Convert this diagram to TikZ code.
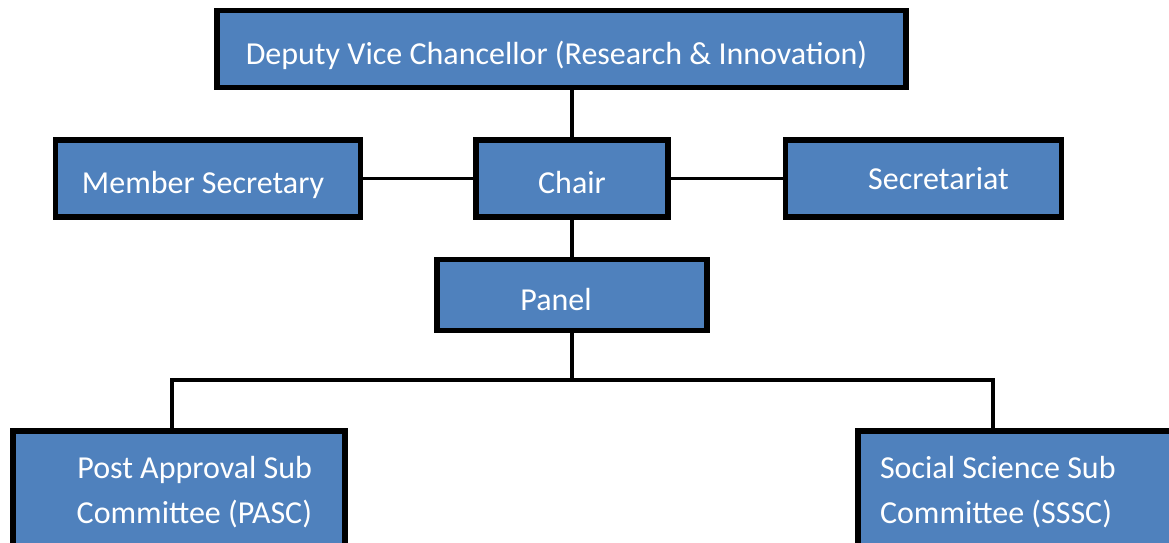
\documentclass[tikz,border=0pt]{standalone}
\usepackage{fontspec}
\setmainfont{Carlito}
\usetikzlibrary{
    positioning % For placing nodes relative to each other (e.g., left=of)
}
\definecolor{boxblue}{HTML}{4F81BD}

\begin{document}
\begin{tikzpicture}[
    x=1pt, y=-1pt,
    % Style for the blue boxes
    box_style/.style={
        draw=black,
        line width=5.5pt,
        fill=boxblue,
        text=white,
        font=\fontsize{32}{45}\selectfont,
        inner sep=0pt
    },
    % Single line boxes: text sits a little low in the box
    low_text/.style={
        text height=34pt,
        text depth=4pt
    },
    % Move the text sideways inside its box (by half the value)
    text_shift/.style={
        execute at begin node={\hskip#1}
    },
    % Style for the connecting lines
    link_style/.style={
        draw=black,
        line width=3.5pt
    }
]
    \useasboundingbox (0,0) rectangle (1169,543);

    % 1. Top and middle rows.
    \node[box_style, low_text, text_shift=-10pt, minimum width=689pt, minimum height=77pt] (dvc) at (561.5,49) {Deputy Vice Chancellor (Research \& Innovation)};
    \node[box_style, low_text, minimum width=192pt, minimum height=77pt] (chair) at (572,178.5) {Chair};
    \node[box_style, low_text, text_shift=-10pt, minimum width=305pt, minimum height=77pt, left=110pt of chair] (member_sec) {Member Secretary};
    \node[box_style, text_shift=30pt, minimum width=276pt, minimum height=77pt, right=112pt of chair] (secretariat) {Secretariat};
    \node[box_style, low_text, text_shift=-32pt, minimum width=270pt, minimum height=71pt, below=37pt of chair] (panel) {Panel};

    % 2. The two sub committees at the bottom.
    \node[box_style, minimum width=332pt, minimum height=122pt, text width=266pt, align=flush right] (pasc) at (179,492) {Post Approval Sub\\Committee (PASC)};
    \node[box_style, minimum width=334pt, minimum height=122pt, text width=290pt, align=flush left] (sssc) at (1025,492) {Social Science Sub\\Committee (SSSC)};

    % 3. Connectors.
    \draw[link_style] (chair.north) -- (chair.north |- dvc.south);
    \draw[link_style] (member_sec.east) -- (chair.west);
    \draw[link_style] (chair.east) -- (secretariat.west);
    \draw[link_style] (chair.south) -- (panel.north);

    % Bus line feeding the sub committees.
    \coordinate (pasc_drop) at (172,380);
    \coordinate (sssc_drop) at (993,380);
    \draw[link_style] (panel.south) -- (panel.south |- pasc_drop);
    \draw[link_style] (pasc.north -| pasc_drop) -- (pasc_drop) -- (sssc_drop) -- (sssc.north -| sssc_drop);

\end{tikzpicture}
\end{document}
